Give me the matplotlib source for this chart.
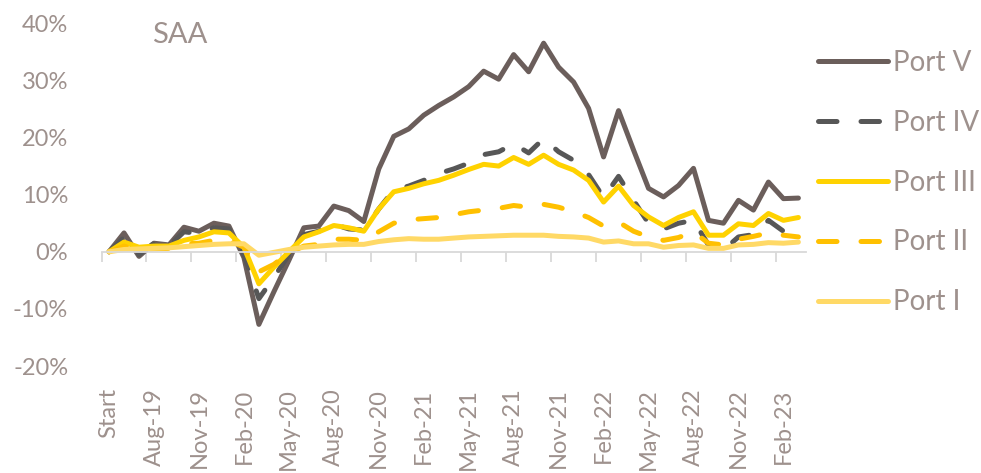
import matplotlib.pyplot as plt
import numpy as np

# monthly cumulative returns (%), May-19 ("Start") to Mar-23
port_v = [0, 3.3, -0.8, 1.5, 1.2, 4.3, 3.6, 5.0, 4.5, -1.0, -12.7, -7.0, -1.5, 4.2, 4.5,
          8.0, 7.2, 5.3, 14.5, 20.2, 21.5, 23.9, 25.6, 27.1, 28.9, 31.6, 30.2, 34.5, 31.5,
          36.5, 32.3, 29.7, 25.1, 16.6, 24.7, 17.8, 11.1, 9.6, 11.6, 14.6, 5.5, 5.0, 9.0,
          7.3, 12.2, 9.3, 9.4]
port_iv = [0, 2.5, -0.5, 1.5, 1.0, 3.5, 3.2, 4.2, 4.0, -0.5, -8.2, -4.5, -0.5, 3.0, 3.6,
           4.8, 4.0, 3.8, 7.5, 10.8, 11.5, 12.5, 13.7, 14.5, 15.5, 17.0, 17.5, 18.9, 17.3,
           19.8, 17.5, 16.0, 13.5, 9.5, 13.2, 9.0, 5.0, 4.0, 5.0, 5.5, 1.2, 0.3, 2.6,
           3.0, 5.5, 3.6, 3.6]
port_iii = [0, 1.7, 0.8, 1.0, 1.0, 2.0, 2.6, 3.5, 3.3, 0.8, -5.6, -2.7, 0.0, 2.6, 3.5,
            4.6, 4.2, 3.6, 7.5, 10.5, 11.1, 11.9, 12.5, 13.4, 14.4, 15.3, 15.0, 16.5, 15.3,
            16.9, 15.3, 14.3, 12.5, 8.7, 11.5, 8.1, 6.1, 4.6, 6.0, 7.0, 2.9, 2.9, 4.9,
            4.6, 6.7, 5.5, 6.0]
port_ii = [0, 1.0, 0.3, 0.5, 0.6, 1.4, 1.5, 2.0, 2.0, 0.8, -3.5, -2.2, -0.2, 1.0, 1.3,
           2.2, 2.2, 2.0, 3.5, 5.0, 5.6, 5.8, 6.0, 6.5, 7.0, 7.3, 7.6, 8.1, 7.8,
           8.3, 7.8, 7.0, 6.0, 4.5, 5.2, 3.6, 2.6, 2.0, 2.5, 3.5, 1.5, 1.2, 2.2,
           2.7, 3.3, 2.9, 2.6]
port_i = [0, 0.4, 0.5, 0.6, 0.7, 0.9, 1.1, 1.3, 1.4, 1.4, -0.6, -0.1, 0.4, 0.8, 1.0,
          1.2, 1.3, 1.3, 1.8, 2.1, 2.3, 2.2, 2.2, 2.4, 2.6, 2.7, 2.8, 2.9, 2.9,
          2.9, 2.7, 2.6, 2.4, 1.7, 1.9, 1.4, 1.4, 0.8, 1.1, 1.2, 0.6, 0.6, 1.2,
          1.3, 1.6, 1.5, 1.7]

tick_labels = ['Start', 'Aug-19', 'Nov-19', 'Feb-20', 'May-20', 'Aug-20', 'Nov-20', 'Feb-21',
               'May-21', 'Aug-21', 'Nov-21', 'Feb-22', 'May-22', 'Aug-22', 'Nov-22', 'Feb-23']

text_col = '#9e918d'
grid_col = '#d9d9d9'
plt.rcParams['font.family'] = ['Lato', 'DejaVu Sans']

fig = plt.figure(figsize=(9.81, 4.73), dpi=100)
ax = fig.add_axes([0.1035, 0.226, 0.718, 0.725])

x = np.arange(len(port_v))
lw = 3.6
ax.plot(x, port_v, color='#6b5e5b', lw=lw, label='Port V', solid_capstyle='round', solid_joinstyle='round')
ax.plot(x, port_iv, color='#575757', lw=lw, label='Port IV', dashes=(3.7, 4.8),
        dash_capstyle='round', dash_joinstyle='round')
ax.plot(x, port_iii, color='#ffd200', lw=lw, label='Port III', solid_capstyle='round', solid_joinstyle='round')
ax.plot(x, port_ii, color='#ffc000', lw=lw, label='Port II', dashes=(3.7, 4.8),
        dash_capstyle='round', dash_joinstyle='round')
ax.plot(x, port_i, color='#ffd966', lw=lw, label='Port I', solid_capstyle='round', solid_joinstyle='round')

ax.set_xlim(-0.5, len(port_v) - 0.5)
ax.set_ylim(-20, 40)
ax.set_yticks([-20, -10, 0, 10, 20, 30, 40])
ax.set_yticklabels(['%d%%' % v for v in [-20, -10, 0, 10, 20, 30, 40]], fontsize=17, color=text_col)
ax.tick_params(axis='y', length=0, pad=24)

# zero line with category boundary ticks
ax.spines['bottom'].set_position(('data', 0))
ax.spines['bottom'].set_color(grid_col)
ax.spines['bottom'].set_linewidth(1.3)
ax.set_xticks(np.arange(-0.5, len(port_v), 3))
ax.set_xticklabels([])
ax.tick_params(axis='x', direction='out', length=7, width=1.3, color=grid_col)
for s in ['top', 'right', 'left']:
    ax.spines[s].set_visible(False)

sec = ax.secondary_xaxis('bottom')
sec.set_xticks(np.arange(0, len(port_v), 3))
sec.set_xticklabels(tick_labels, rotation=90, fontsize=17, color=text_col)
sec.tick_params(length=0, pad=16)
sec.spines['bottom'].set_visible(False)

ax.text(0.071, 0.965, 'SAA', transform=ax.transAxes, fontsize=21, color=text_col,
        ha='left', va='center')

leg = fig.legend(loc='center left', bbox_to_anchor=(0.834, 0.614), frameon=False,
                 fontsize=20, handlelength=2.5, handletextpad=0.2, labelspacing=1.22,
                 borderpad=0, borderaxespad=0)
for t in leg.get_texts():
    t.set_color(text_col)

fig.savefig('out.png', dpi=100)
